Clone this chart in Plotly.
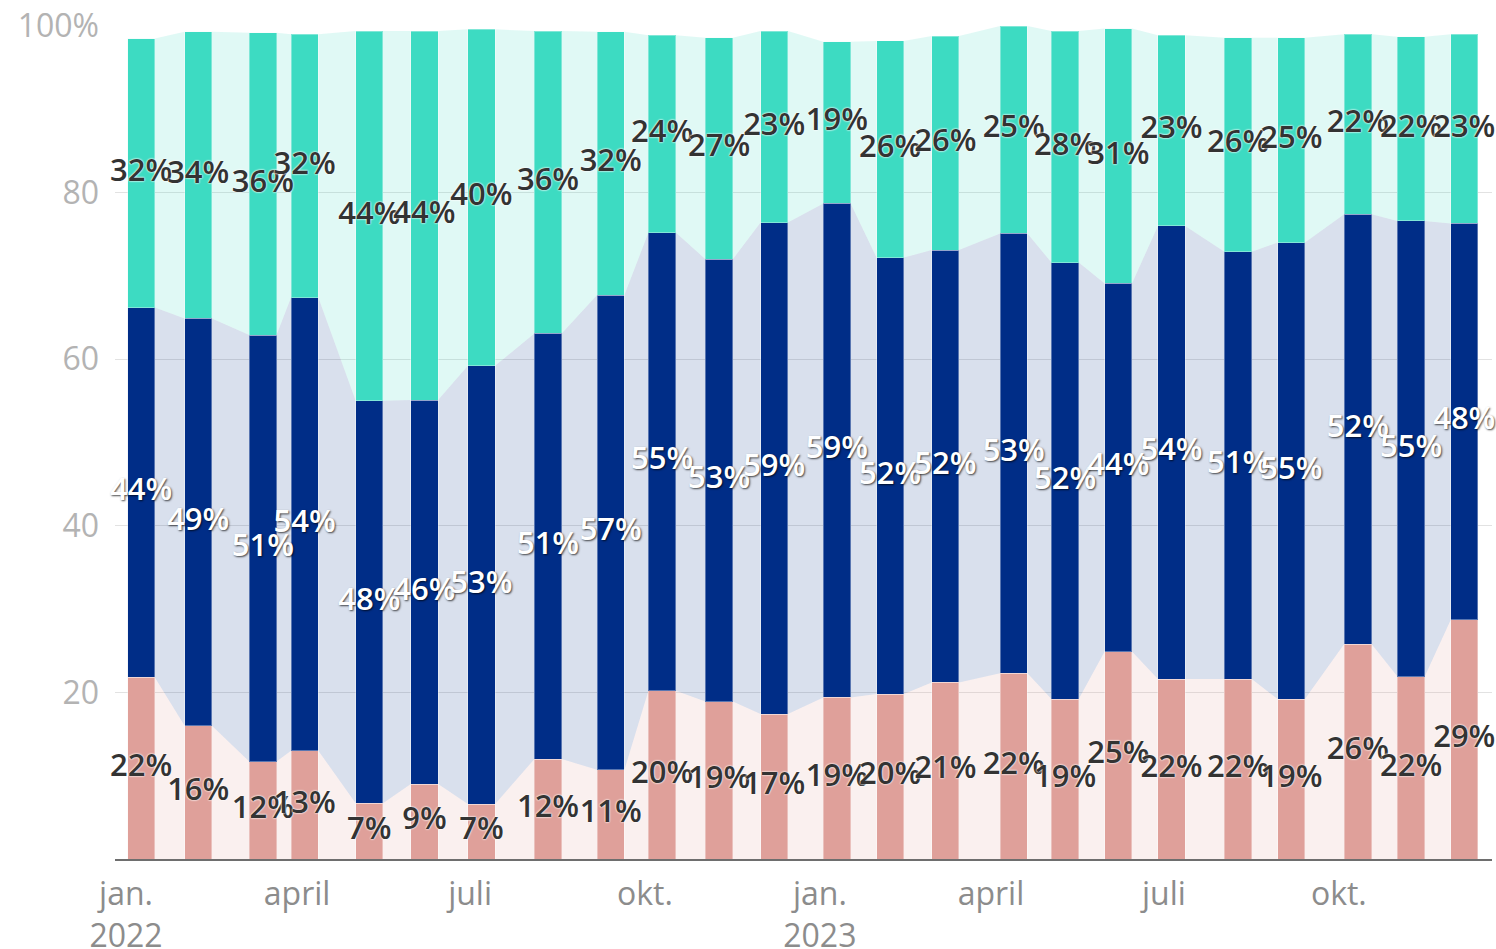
import plotly.graph_objects as go
import pandas as pd

# ---- data ----
dates = ["2022-01-09", "2022-02-08", "2022-03-14", "2022-04-05", "2022-05-09", "2022-06-07",
         "2022-07-07", "2022-08-11", "2022-09-13", "2022-10-10", "2022-11-09", "2022-12-08",
         "2023-01-10", "2023-02-07", "2023-03-08", "2023-04-13", "2023-05-10", "2023-06-07",
         "2023-07-05", "2023-08-09", "2023-09-06", "2023-10-11", "2023-11-08", "2023-12-06"]

pink = [21.8, 16.0, 11.7, 13.0, 6.7, 9.0, 6.6, 12.0, 10.7, 20.2, 18.9, 17.4,
        19.4, 19.8, 21.2, 22.3, 19.2, 24.9, 21.6, 21.6, 19.2, 25.8, 21.9, 28.7]
blue = [44.4, 48.9, 51.2, 54.4, 48.3, 46.1, 52.6, 51.1, 57.0, 55.0, 53.1, 59.0,
        59.3, 52.4, 51.9, 52.8, 52.4, 44.2, 54.4, 51.3, 54.8, 51.6, 54.7, 47.6]
teal = [32.3, 34.4, 36.3, 31.6, 44.4, 44.3, 40.4, 36.3, 31.6, 23.7, 26.6, 23.0,
        19.4, 26.0, 25.7, 24.9, 27.8, 30.6, 22.9, 25.7, 24.6, 21.6, 22.1, 22.7]

tick_dates = ["2022-01-01", "2022-04-01", "2022-07-01", "2022-10-01",
              "2023-01-01", "2023-04-01", "2023-07-01", "2023-10-01"]
tick_labels = ["jan.<br>2022", "april", "juli", "okt.",
               "jan.<br>2023", "april", "juli", "okt."]
y_ticks = [0, 20, 40, 60, 80, 100]
y_tick_labels = ["", "20", "40", "60", "80", "100%"]

# ---- styles ----
C_PINK = "#DFA09A"
C_BLUE = "#002D87"
C_TEAL = "#3DDBC2"
A_PINK = "rgba(223,160,154,0.16)"
A_BLUE = "rgba(0,45,135,0.15)"
A_TEAL = "rgba(61,219,194,0.16)"
BAR_DAYS = 14.36
FONT = "Open Sans"

d = pd.to_datetime(dates)
half = pd.Timedelta(days=BAR_DAYS / 2)
edge_x = [v for t in d for v in (t - half, t + half)]


def dup(vals):
    return [v for v in vals for _ in (0, 1)]


fig = go.Figure()

# background stacked areas (main subplot, beneath bars)
for vals, fc in ((pink, A_PINK), (blue, A_BLUE), (teal, A_TEAL)):
    fig.add_trace(go.Scatter(x=edge_x, y=dup(vals), mode="lines", stackgroup="bg",
                             line=dict(width=0), fillcolor=fc, hoverinfo="skip",
                             showlegend=False))

# stacked bars (overlay subplot)
bar_ms = BAR_DAYS * 86400000
for vals, c in ((pink, C_PINK), (blue, C_BLUE), (teal, C_TEAL)):
    fig.add_trace(go.Bar(x=d, y=vals, width=bar_ms, marker=dict(color=c,
                         line=dict(color="rgba(255,255,255,0.35)", width=1)),
                         xaxis="x2", yaxis="y2", showlegend=False))

# labels
mid_pink = [p / 2 for p in pink]
mid_blue = [p + b / 2 for p, b in zip(pink, blue)]
mid_teal = [p + b + t / 2 for p, b, t in zip(pink, blue, teal)]

dark_font = dict(family=FONT, size=31, color="#333333", weight=600,
                 shadow="0px 0px 2px #ffffff, 0px 0px 2px #ffffff")
light_font = dict(family=FONT, size=31, color="#ffffff", weight=600,
                  shadow="1px 1px 2px rgba(0,0,0,0.7)")

for vals, mids, f in ((pink, mid_pink, dark_font), (blue, mid_blue, light_font),
                      (teal, mid_teal, dark_font)):
    fig.add_trace(go.Scatter(x=d, y=mids, mode="text",
                             text=[f"{v:.0f}%" for v in vals],
                             textposition="middle center", textfont=f,
                             xaxis="x2", yaxis="y2", cliponaxis=False,
                             hoverinfo="skip", showlegend=False))

x_range = ["2021-12-26 05:00", "2023-12-20 13:40"]

fig.update_layout(
    width=1496, height=949,
    margin=dict(l=115, r=4, t=26, b=90),
    paper_bgcolor="white", plot_bgcolor="white",
    barmode="stack",
    showlegend=False,
    font=dict(family=FONT),
    xaxis=dict(type="date", range=x_range, tickvals=tick_dates, ticktext=tick_labels,
               showgrid=False, showline=True, linecolor="#6e6e6e", linewidth=2,
               ticks="", ticklabelstandoff=6, automargin=False,
               tickfont=dict(family=FONT, size=32, color="#8c8c8c"),
               zeroline=False),
    yaxis=dict(range=[0, 100], tickvals=y_ticks, ticktext=y_tick_labels,
               showgrid=True, gridcolor="#e2e2e2", gridwidth=1, zeroline=False,
               showline=False, ticks="", ticklabelstandoff=15, automargin=False,
               tickfont=dict(family=FONT, size=32, color="#b3b3b3")),
    xaxis2=dict(type="date", range=x_range, overlaying="x", visible=False),
    yaxis2=dict(range=[0, 100], overlaying="y", visible=False),
)

fig.write_html("out.html", config={"displayModeBar": False},
               post_script="document.body.style.margin='0';document.body.style.overflow='hidden';")
